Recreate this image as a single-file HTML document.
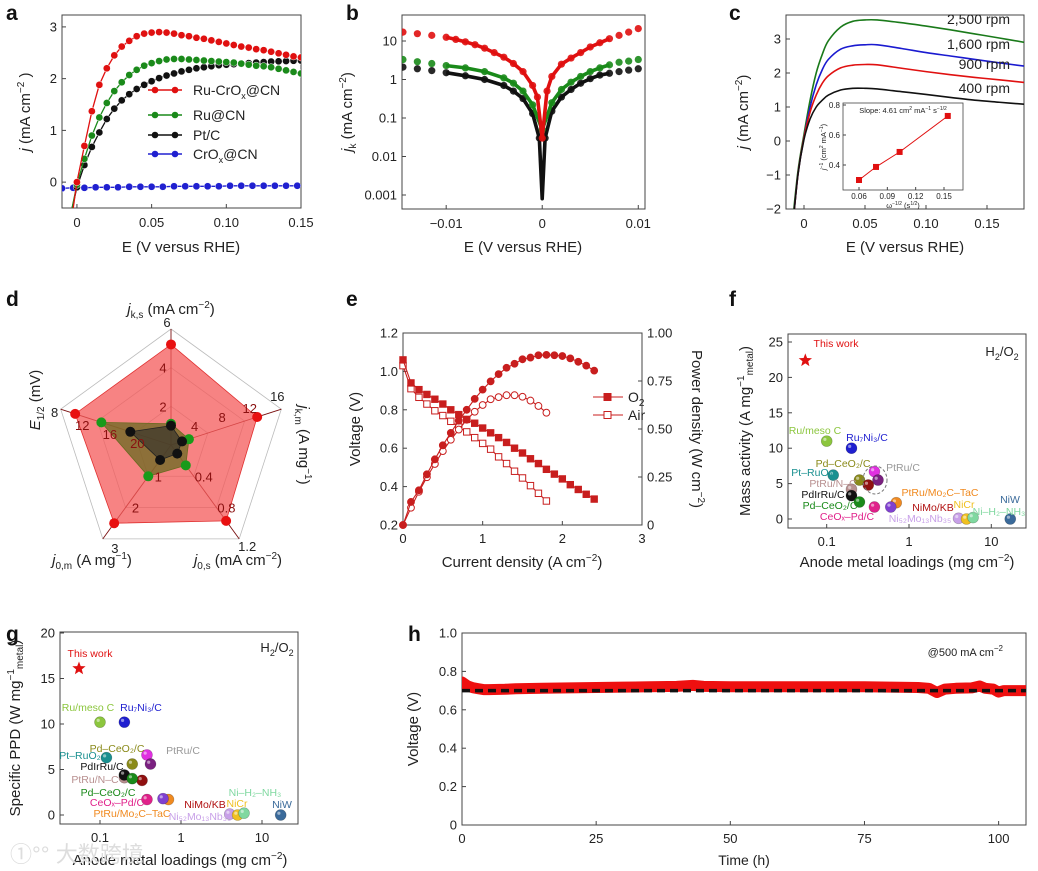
<!DOCTYPE html>
<html><head><meta charset="utf-8">
<style>
html,body{margin:0;padding:0;background:#fff;}
svg{display:block;font-family:"Liberation Sans","Noto Sans CJK SC",sans-serif;}
</style></head>
<body>
<svg id="fig" width="1038" height="871" viewBox="0 0 1038 871" xmlns="http://www.w3.org/2000/svg">
<rect x="0" y="0" width="1038" height="871" fill="#fff"/>
<defs>
<clipPath id="clipA"><rect x="62" y="15" width="239" height="193"/></clipPath>
<clipPath id="clipB"><rect x="402" y="15" width="243" height="194"/></clipPath>
<clipPath id="clipC"><rect x="786" y="15" width="238" height="194"/></clipPath>
<clipPath id="clipH"><rect x="462" y="633" width="564" height="192"/></clipPath>
</defs>
</svg>
<script>
// ---------- DATA ----------
// panel a
const aE_red=[-0.003,0,0.005,0.01,0.015,0.02,0.025,0.03,0.035,0.04,0.045,0.05,0.055,0.06,0.065,0.07,0.075,0.08,0.085,0.09,0.095,0.1,0.105,0.11,0.115,0.12,0.125,0.13,0.135,0.14,0.145,0.15];
const aJ_red=[-0.6,0.0,0.7,1.37,1.88,2.2,2.45,2.62,2.73,2.82,2.87,2.89,2.9,2.89,2.87,2.84,2.82,2.79,2.77,2.74,2.71,2.68,2.65,2.62,2.6,2.57,2.55,2.52,2.49,2.46,2.43,2.41];
const aE_green=[-0.004,0,0.005,0.01,0.015,0.02,0.025,0.03,0.035,0.04,0.045,0.05,0.055,0.06,0.065,0.07,0.075,0.08,0.085,0.09,0.095,0.1,0.105,0.11,0.115,0.12,0.125,0.13,0.135,0.14,0.145,0.15];
const aJ_green=[-0.6,-0.05,0.45,0.9,1.25,1.53,1.76,1.93,2.07,2.17,2.25,2.3,2.34,2.37,2.38,2.38,2.37,2.36,2.35,2.34,2.33,2.32,2.31,2.29,2.27,2.25,2.24,2.22,2.19,2.16,2.13,2.1];
const aE_black=[-0.004,0,0.005,0.01,0.015,0.02,0.025,0.03,0.035,0.04,0.045,0.05,0.055,0.06,0.065,0.07,0.075,0.08,0.085,0.09,0.095,0.1,0.105,0.11,0.115,0.12,0.125,0.13,0.135,0.14,0.145,0.15];
const aJ_black=[-0.6,-0.1,0.33,0.68,0.96,1.22,1.42,1.58,1.7,1.8,1.88,1.95,2.01,2.06,2.1,2.14,2.17,2.2,2.22,2.24,2.26,2.27,2.28,2.29,2.3,2.31,2.32,2.33,2.335,2.34,2.345,2.35];
const aE_blue=[-0.01,-0.0025,0.005,0.0125,0.02,0.0275,0.035,0.0425,0.05,0.0575,0.065,0.0725,0.08,0.0875,0.095,0.1025,0.11,0.1175,0.125,0.1325,0.14,0.1475];
const aJ_blue=[-0.12,-0.11,-0.11,-0.1,-0.1,-0.1,-0.09,-0.09,-0.09,-0.09,-0.08,-0.08,-0.08,-0.08,-0.08,-0.07,-0.07,-0.07,-0.07,-0.07,-0.07,-0.07];
const aXTicks=[0,0.05,0.1,0.15];
const aXLabels=['0','0.05','0.10','0.15'];
const aYTicks=[0,1,2,3];
// panel b (E in mV)
const bE_red=[-14.5,-13,-11.5,-10,-9,-8,-7,-6,-5,-4,-3,-2,-1,-0.5,0,0.5,1,2,3,4,5,6,7,8,9,10];
const bJ_red=[17,15.5,14,12.5,11,9.5,8,6.5,5,3.8,2.6,1.6,0.7,0.35,0.03,0.5,1.2,2.5,3.6,5,7,9,11.5,14,17,21];
const bE_green=[-14.5,-13,-11.5,-10,-8,-6,-4,-3,-2,-1,0,1,2,3,4,5,6,7,8,9,10];
const bJ_green=[3.3,2.9,2.6,2.3,2.0,1.6,1.1,0.8,0.5,0.22,0.05,0.25,0.55,0.85,1.2,1.6,2.0,2.4,2.8,3.0,3.3];
const bE_black=[-14.5,-13,-11.5,-10,-8,-6,-4,-3,-2,-1,-0.3,0,0.3,1,2,3,4,5,6,7,8,9,10];
const bJ_black=[2.1,1.9,1.7,1.5,1.25,1.0,0.7,0.5,0.32,0.13,0.03,0.0008,0.03,0.15,0.35,0.55,0.8,1.05,1.3,1.45,1.6,1.75,1.9];
const bXTicks=[-10,0,10];
const bXLabels=['\u22120.01','0','0.01'];
const bYTicks=[10,1,0.1,0.01,0.001];
const bYLabels=['10','1','0.1','0.01','0.001'];
// panel c
const cE=[-0.01,-0.005,0,0.005,0.01,0.015,0.02,0.03,0.04,0.05,0.06,0.08,0.1,0.12,0.14,0.16,0.181];
const cJ2500=[-2.6,-0.9,0.2,1.2,2.0,2.55,2.95,3.35,3.52,3.56,3.56,3.48,3.38,3.27,3.15,3.03,2.9];
const cJ1600=[-2.8,-1.0,0.1,1.0,1.65,2.1,2.4,2.7,2.8,2.83,2.83,2.72,2.6,2.5,2.4,2.3,2.2];
const cJ900=[-2.8,-1.0,0.1,0.85,1.35,1.7,1.92,2.15,2.23,2.25,2.24,2.14,2.04,1.95,1.87,1.8,1.72];
const cJ400=[-2.8,-1.0,0.05,0.65,1.0,1.2,1.35,1.5,1.55,1.55,1.53,1.45,1.37,1.28,1.2,1.14,1.08];
const cSpeeds=['2,500 rpm','1,600 rpm','900 rpm','400 rpm'];
const cXTicks=[0,0.05,0.1,0.15];
const cXLabels=['0','0.05','0.10','0.15'];
const cYTicks=[-2,-1,0,1,2,3];
const cYLabels=['\u22122','\u22121','0','1','2','3'];
const insetX=[0.06,0.078,0.103,0.154];
const insetY=[0.30,0.387,0.487,0.727];
const insetXTicks=[0.06,0.09,0.12,0.15];
const insetYTicks=[0.4,0.6,0.8];
// panel d (radar)
const dAxes=['jks','jkm','j0s','j0m','E12'];
const dMax=[6,16,1.2,3,8];
const dRed=[5.2,12.5,0.97,2.5,10.1];
const dGreen=[1.1,2.6,0.26,1.0,13.9];
const dBlack=[1.0,1.6,0.11,0.48,18.1];
// panel e
const eI_O2=[0,0.1,0.2,0.3,0.4,0.5,0.6,0.7,0.8,0.9,1.0,1.1,1.2,1.3,1.4,1.5,1.6,1.7,1.8,1.9,2.0,2.1,2.2,2.3,2.4];
const eV_O2=[1.06,0.94,0.905,0.88,0.855,0.83,0.8,0.775,0.75,0.73,0.705,0.68,0.655,0.63,0.6,0.575,0.545,0.52,0.49,0.465,0.44,0.41,0.385,0.36,0.335];
const eP_O2=[0,0.12,0.181,0.264,0.342,0.415,0.48,0.543,0.6,0.657,0.705,0.748,0.786,0.819,0.84,0.863,0.872,0.884,0.886,0.884,0.88,0.868,0.85,0.83,0.804];
const eI_Air=[0,0.1,0.2,0.3,0.4,0.5,0.6,0.7,0.8,0.9,1.0,1.1,1.2,1.3,1.4,1.5,1.6,1.7,1.8];
const eV_Air=[1.03,0.91,0.865,0.83,0.795,0.77,0.74,0.71,0.685,0.655,0.625,0.595,0.555,0.52,0.48,0.445,0.405,0.365,0.325];
const eP_Air=[0,0.09,0.173,0.249,0.318,0.385,0.444,0.497,0.548,0.59,0.625,0.655,0.666,0.676,0.676,0.668,0.648,0.62,0.585];
const eXTicks=[0,1,2,3];
const eYTicks=[0.2,0.4,0.6,0.8,1.0,1.2];
const eRTicks=[0,0.25,0.5,0.75,1.0];
const eRLabels=['0','0.25','0.50','0.75','1.00'];
// panel f / g (scatter)
const catNames=['Ru/meso C','Ru\u2087Ni\u2083/C','Pt\u2013RuO\u2082','Pd\u2013CeO\u2082/C','PtRu/C','PtRu/C b','PtRu/N\u2013C','Ru\u2013Co/C','PdIrRu/C','Pd\u2013CeO\u2082/C g','CeO\u2093\u2013Pd/C','PtRu/Mo\u2082C\u2013TaC','NiMo/KB','Ni\u2085\u2082Mo\u2081\u2083Nb\u2083\u2085','NiCr','Ni\u2013H\u2082\u2013NH\u2083','NiW'];
const catColors=['#8cc63e','#1f1fd0','#1a9090','#8a8a1a','#e030e0','#7a2080','#b89090','#901010','#111111','#1a8a1a','#e0208a','#f08a20','#8040d0','#c8a0e8','#f0c020','#80d8a0','#3a6a9a'];
const fLoad=[0.1,0.2,0.12,0.25,0.38,0.42,0.2,0.32,0.2,0.25,0.38,0.7,0.6,4,5,6,17];
const fMass=[11,10,6.2,5.5,6.7,5.5,4.2,4.8,3.3,2.4,1.7,2.3,1.7,0.1,0,0.2,0];
const gLoad=[0.1,0.2,0.12,0.25,0.38,0.42,0.2,0.33,0.2,0.25,0.38,0.7,0.6,4,5,6,17];
const gPPD=[10.2,10.2,6.3,5.6,6.6,5.6,4.1,3.8,4.4,4.0,1.7,1.7,1.8,0.1,0,0.2,0];
const fThisWork=[0.055,22.4];
const gThisWork=[0.055,16.1];
const fYTicks=[0,5,10,15,20,25];
const gYTicks=[0,5,10,15,20];
const logTicks=[0.1,1,10];
// panel h
const hT=[0,0.5,1,2,3,4,5,8,10,15,20,25,30,35,40,43,45,50,55,60,65,70,75,80,85,87,88.5,90,92,95,96.5,97.5,99,100,101,103,105];
const hV=[0.745,0.735,0.725,0.715,0.71,0.705,0.705,0.707,0.71,0.712,0.714,0.716,0.718,0.72,0.722,0.727,0.722,0.72,0.72,0.72,0.72,0.72,0.72,0.718,0.716,0.712,0.69,0.708,0.712,0.714,0.724,0.712,0.708,0.692,0.7,0.7,0.7];
const hRef=0.70;
const hXTicks=[0,25,50,75,100];
const hYTicks=[0,0.2,0.4,0.6,0.8,1.0];

// ---------- HELPERS ----------
const NS='http://www.w3.org/2000/svg';
const svg=document.getElementById('fig');
function mk(tag,attrs,parent){const e=document.createElementNS(NS,tag);for(const k in attrs)e.setAttribute(k,attrs[k]);(parent||svg).appendChild(e);return e;}
function grp(name,clip){const g=mk('g',clip?{'clip-path':'url(#'+clip+')'}:{});return g;}
function T(x,y,html,size,anchor,fill,parent,extra){const e=mk('text',Object.assign({x:x,y:y,'font-size':size,'text-anchor':anchor||'middle',fill:fill||'#222'},extra||{}),parent);e.innerHTML=html;return e;}
function lin(d0,d1,r0,r1){return v=>r0+(v-d0)/(d1-d0)*(r1-r0);}
function logS(d0,d1,r0,r1){return v=>r0+(Math.log10(v)-Math.log10(d0))/(Math.log10(d1)-Math.log10(d0))*(r1-r0);}
function frame(x0,y0,x1,y1,name){const r=mk('rect',{x:x0,y:y0,width:x1-x0,height:y1-y0,fill:'none',stroke:'#444','stroke-width':1});}
function xTicks(vals,labels,sx,yb,ylab,g){vals.forEach((v,i)=>{const x=sx(v);mk('line',{x1:x,x2:x,y1:yb,y2:yb-4,stroke:'#444'},g);const t=T(x,ylab,labels[i],13,'middle','#222',g);});}
function yTicks(vals,labels,sy,xl,g,right){vals.forEach((v,i)=>{const y=sy(v);mk('line',{x1:xl,x2:right?xl-4:xl+4,y1:y,y2:y,stroke:'#444'},g);const t=T(right?xl+5:xl-5,y+4.5,labels[i],13,right?'start':'end','#222',g);});}
function pathD(xs,ys,sx,sy){return xs.map((v,i)=>(i?'L':'M')+sx(v).toFixed(1)+','+sy(ys[i]).toFixed(1)).join('');}
function smoothD(xs,ys,sx,sy){const p=xs.map((v,i)=>[sx(v),sy(ys[i])]);let d='M'+p[0][0]+','+p[0][1];for(let i=0;i<p.length-1;i++){const p0=p[i-1]||p[i],p1=p[i],p2=p[i+1],p3=p[i+2]||p2;const c1=[p1[0]+(p2[0]-p0[0])/6,p1[1]+(p2[1]-p0[1])/6],c2=[p2[0]-(p3[0]-p1[0])/6,p2[1]-(p3[1]-p1[1])/6];d+='C'+c1.join(',')+' '+c2.join(',')+' '+p2.join(',');}return d;}
function panelLabel(x,y,s){const t=T(x,y,s,21,'start','#111',svg,{'font-weight':'bold'});}
function rotText(x,y,html,size,name,deg){const t=T(0,0,html,size,'middle','#222',svg,{transform:'translate('+x+','+y+') rotate('+(deg||-90)+')'});return t;}

// ---------- PANEL A ----------
panelLabel(6,20,'a');
{
const sx=lin(-0.01,0.15,62,301), sy=lin(-0.5,3.23,208,15);
const g=grp('panel-a-axes');
frame(62,15,301,208,'panel-a-frame');
xTicks(aXTicks,aXLabels,sx,208,227,g);
yTicks(aYTicks,aYTicks.map(String),sy,62,g);
const xt=T(181,252,'E (V versus RHE)',15);
rotText(30,112,'<tspan font-style="italic">j</tspan> (mA cm<tspan dy="-6" font-size="10">\u22122</tspan><tspan dy="6"> </tspan>)',15,'panel-a-y-title');
const gd=grp('panel-a-series','clipA');
const series=[[aE_blue,aJ_blue,'#2020d0','series-crox-cn'],[aE_black,aJ_black,'#111','series-pt-c'],[aE_green,aJ_green,'#1a8a1a','series-ru-cn'],[aE_red,aJ_red,'#e01010','series-ru-crox-cn']];
series.forEach(s=>{const sg=mk('g',{},gd);
 mk('path',{d:pathD(s[0],s[1],sx,sy),fill:'none',stroke:s[2],'stroke-width':1.3},sg);
 s[0].forEach((v,i)=>{if(i===0&&s[3]!=='series-crox-cn')return;const c=mk('circle',{cx:sx(v),cy:sy(s[1][i]),r:3.6,fill:s[2],stroke:'#fff','stroke-width':0.5},sg);});});
const leg=[['Ru-CrO<tspan dy="4" font-size="9">x</tspan><tspan dy="-4">@CN</tspan>','#e01010',90],['Ru@CN','#1a8a1a',115],['Pt/C','#111',135],['CrO<tspan dy="4" font-size="9">x</tspan><tspan dy="-4">@CN</tspan>','#2020d0',154]];
leg.forEach(l=>{const lg=mk('g',{});
 mk('line',{x1:148,x2:182,y1:l[2],y2:l[2],stroke:l[1],'stroke-width':1.5},lg);mk('circle',{cx:155,cy:l[2],r:3.3,fill:l[1]},lg);mk('circle',{cx:175,cy:l[2],r:3.3,fill:l[1]},lg);
 T(193,l[2]+5,l[0],14,'start','#222',lg);});
}

// ---------- PANEL B ----------
panelLabel(346,20,'b');
{
const sx=lin(-14.6,10.7,402,645), sy=logS(0.001,10,195,41);
const g=grp('panel-b-axes');
frame(402,15,645,209,'panel-b-frame');
xTicks(bXTicks,bXLabels,sx,209,228,g);
yTicks(bYTicks,bYLabels,sy,402,g);
const xt=T(523,252,'E (V versus RHE)',15);
rotText(352,112,'<tspan font-style="italic">j</tspan><tspan dy="4" font-size="10">k</tspan><tspan dy="-4"> (mA cm</tspan><tspan dy="-6" font-size="10">\u22122</tspan><tspan dy="6">)</tspan>',15,'panel-b-y-title');
const gd=grp('panel-b-series','clipB');
[[bE_black,bJ_black,'#111','series-pt-c'],[bE_green,bJ_green,'#1a8a1a','series-ru-cn'],[bE_red,bJ_red,'#e01010','series-ru-crox-cn']].forEach(s=>{
 const sg=mk('g',{},gd);
 const fitX=s[0].filter(v=>v>=-10.5&&v<=7.5), fitY=s[1].filter((v,i)=>s[0][i]>=-10.5&&s[0][i]<=7.5);
 mk('path',{d:pathD(fitX,fitY,sx,sy),fill:'none',stroke:s[2],'stroke-width':3.6,'stroke-linejoin':'round'},sg);
 s[0].forEach((v,i)=>{if(s[1][i]<0.02)return;const c=mk('circle',{cx:sx(v),cy:sy(s[1][i]),r:3.6,fill:s[2],opacity:0.9},sg);});});
}

// ---------- PANEL C ----------
panelLabel(729,20,'c');
{
const sx=lin(0,0.05,804,865), sy=lin(0,1,141,107);
const g=grp('panel-c-axes');
frame(786,15,1024,209,'panel-c-frame');
xTicks(cXTicks,cXLabels,sx,209,228,g);
yTicks(cYTicks,cYLabels,sy,786,g);
const xt=T(905,252,'E (V versus RHE)',15);
rotText(748,112,'<tspan font-style="italic">j</tspan> (mA cm<tspan dy="-6" font-size="10">\u22122</tspan><tspan dy="6">)</tspan>',15,'panel-c-y-title');
const gd=grp('panel-c-series','clipC');
[[cJ2500,'#1a7a1a'],[cJ1600,'#1a1ad0'],[cJ900,'#e01010'],[cJ400,'#111']].forEach((s,k)=>{
 const p=mk('path',{d:smoothD(cE,s[0],sx,sy),fill:'none',stroke:s[1],'stroke-width':1.6},gd);
 });
[24,49,69,93].forEach((y,k)=>{const t=T(1010,y,cSpeeds[k],14,'end','#222');});
// inset
const ig=grp('panel-c-inset');
mk('rect',{x:843,y:103,width:120,height:87,fill:'#fff',stroke:'#444','stroke-width':0.8},ig);
const ix=lin(0.06,0.15,859,944), iy=lin(0.4,0.8,165,105);
insetXTicks.forEach(v=>{mk('line',{x1:ix(v),x2:ix(v),y1:190,y2:187,stroke:'#444'},ig);const t=T(ix(v),199,v.toFixed(2),8,'middle','#222',ig);});
insetYTicks.forEach(v=>{mk('line',{x1:843,x2:846,y1:iy(v),y2:iy(v),stroke:'#444'},ig);const t=T(840,iy(v)+3,v.toFixed(1),8,'end','#222',ig);});
mk('path',{d:pathD(insetX,insetY,ix,iy),fill:'none',stroke:'#e01010','stroke-width':1},ig);
insetX.forEach((v,i)=>{const r=mk('rect',{x:ix(v)-3,y:iy(insetY[i])-3,width:6,height:6,fill:'#e01010'},ig);});
T(903,113,'Slope: 4.61 cm<tspan dy="-3" font-size="5">2</tspan><tspan dy="3"> mA</tspan><tspan dy="-3" font-size="5">\u22121</tspan><tspan dy="3"> s</tspan><tspan dy="-3" font-size="5">\u22121/2</tspan>',7.5,'middle','#222',ig);
T(903,208,'\u03c9<tspan dy="-3" font-size="5">\u22121/2</tspan><tspan dy="3"> (s</tspan><tspan dy="-3" font-size="5">1/2</tspan><tspan dy="3">)</tspan>',7.5,'middle','#222',ig);
T(0,0,'<tspan font-style="italic">j</tspan><tspan dy="-3" font-size="5">\u22121</tspan><tspan dy="3"> (cm</tspan><tspan dy="-3" font-size="5">2</tspan><tspan dy="3"> mA</tspan><tspan dy="-3" font-size="5">\u22121</tspan><tspan dy="3">)</tspan>',7.5,'middle','#222',ig,{transform:'translate(826,147) rotate(-90)'});
}

// ---------- PANEL D ----------
panelLabel(6,306,'d');
{
const cx=171,cy=445,R=116;
const ang=k=>(-90+72*k)*Math.PI/180;
const frac=(k,v)=>k===4?(24-v)/16:v/dMax[k];
const pt=(k,f)=>[cx+R*f*Math.cos(ang(k)),cy+R*f*Math.sin(ang(k))];
const g=grp('panel-d-radar-grid');
[1/3,2/3,1].forEach(f=>{mk('polygon',{points:[0,1,2,3,4].map(k=>pt(k,f).join(',')).join(' '),fill:'none',stroke:'#bbb','stroke-width':0.8},g);});
function poly(vals,fill,stroke,op,name,pc){const pg=mk('g',{});
 mk('polygon',{points:vals.map((v,k)=>pt(k,frac(k,v)).join(',')).join(' '),fill:fill,'fill-opacity':op,stroke:stroke,'stroke-width':0.8},pg);
 vals.forEach((v,k)=>{const p=pt(k,frac(k,v));const c=mk('circle',{cx:p[0],cy:p[1],r:5,fill:pc},pg);});}
poly(dRed,'#f45a5a','#e03030',0.75,'radar-ru-crox-cn','#e81010');
[0,1,2,3,4].forEach(k=>{const p=pt(k,1);mk('line',{x1:cx,y1:cy,x2:p[0],y2:p[1],stroke:'#7a1010','stroke-width':0.9},g);});
poly(dGreen,'#6a6a20','#6a6a20',0.75,'radar-ru-cn','#1a9a1a');
poly(dBlack,'#2a2a2a','#222',0.6,'radar-pt-c','#111');
// tick labels along axes
const tl=[[[2,4],[6]],[[4,8,12],[16]],[[0.4,0.8],[1.2]],[[1,2],[3]],[[12,16,20],[8]]];
tl.forEach((s,k)=>{s[0].forEach(v=>{const p=pt(k,frac(k,v));const t=T(p[0]+(k===0?-8:k===1?-4:k===2?10:k===3?10:-6),p[1]+(k===1?-5:k===4?12:5),String(v),13,'middle','#8a1010');});
 s[1].forEach(v=>{const p=pt(k,1);const off=[[-4,-2],[-4,-8],[8,12],[12,14],[-6,8]][k];const t=T(p[0]+off[0],p[1]+off[1],String(v),13,'middle','#222');});});
let t=T(171,314,'<tspan font-style="italic">j</tspan><tspan dy="4" font-size="10">k,s</tspan><tspan dy="-4"> (mA cm</tspan><tspan dy="-6" font-size="10">\u22122</tspan><tspan dy="6">)</tspan>',15);
rotText(299,445,'<tspan font-style="italic">j</tspan><tspan dy="4" font-size="10">k,m</tspan><tspan dy="-4"> (A mg</tspan><tspan dy="-6" font-size="10">\u22121</tspan><tspan dy="6">)</tspan>',15,'radar-axis-jkm',90);
t=T(238,565,'<tspan font-style="italic">j</tspan><tspan dy="4" font-size="10">0,s</tspan><tspan dy="-4"> (mA cm</tspan><tspan dy="-6" font-size="10">\u22122</tspan><tspan dy="6">)</tspan>',15);
t=T(92,565,'<tspan font-style="italic">j</tspan><tspan dy="4" font-size="10">0,m</tspan><tspan dy="-4"> (A mg</tspan><tspan dy="-6" font-size="10">\u22121</tspan><tspan dy="6">)</tspan>',15);
rotText(40,400,'<tspan font-style="italic">E</tspan><tspan dy="4" font-size="10">1/2</tspan><tspan dy="-4"> (mV)</tspan>',15,'radar-axis-e12');
}

// ---------- PANEL E ----------
panelLabel(346,306,'e');
{
const sx=lin(0,3,403,642), sy=lin(0.2,1.2,525,333), sp=lin(0,1,525,333);
const g=grp('panel-e-axes');
frame(403,333,642,525,'panel-e-frame');
xTicks(eXTicks,eXTicks.map(String),sx,525,543,g);
yTicks(eYTicks,eYTicks.map(v=>v.toFixed(1)),sy,403,g);
yTicks(eRTicks,eRLabels,sp,642,g,true);
let t=T(522,567,'Current density (A cm<tspan dy="-6" font-size="10">\u22122</tspan><tspan dy="6">)</tspan>',15);
rotText(360,429,'Voltage (V)',15,'panel-e-y-title');
rotText(692,429,'Power density (W cm<tspan dy="-6" font-size="10">\u22122</tspan><tspan dy="6">)</tspan>',15,'panel-e-y2-title',90);
const col='#c81e1e';
function ser(xs,ys,scale,shape,filled,name){const sg=mk('g',{});
 mk('path',{d:pathD(xs,ys,sx,scale),fill:'none',stroke:col,'stroke-width':1.1},sg);
 xs.forEach((v,i)=>{const X=sx(v),Y=scale(ys[i]);let m;if(shape==='sq')m=mk('rect',{x:X-3.2,y:Y-3.2,width:6.4,height:6.4,fill:filled?col:'#fff',stroke:col,'stroke-width':1},sg);else m=mk('circle',{cx:X,cy:Y,r:3.4,fill:filled?col:'#fff',stroke:col,'stroke-width':1},sg);});}
ser(eI_Air,eV_Air,sy,'sq',false,'series-air-voltage');
ser(eI_Air,eP_Air,sp,'ci',false,'series-air-power');
ser(eI_O2,eV_O2,sy,'sq',true,'series-o2-voltage');
ser(eI_O2,eP_O2,sp,'ci',true,'series-o2-power');
[[397,true,'O<tspan dy="4" font-size="10">2</tspan>'],[415,false,'Air']].forEach(l=>{const lg=mk('g',{});
 mk('line',{x1:593,x2:623,y1:l[0],y2:l[0],stroke:col,'stroke-width':1.1},lg);mk('rect',{x:604,y:l[0]-3.5,width:7,height:7,fill:l[1]?col:'#fff',stroke:col},lg);T(628,l[0]+5,l[2],14,'start','#222',lg);});
}

// ---------- PANEL F / G ----------
function scatterPanel(id,box,sx,sy,loads,vals,tw,yt,labelPos,title){
 const g=grp('panel-'+id+'-axes');
 frame(box[0],box[1],box[2],box[3],'panel-'+id+'-frame');
 xTicks(logTicks,['0.1','1','10'],sx,box[3],box[3]+18,g);
 yTicks(yt,yt.map(String),sy,box[0],g);
 const dg=grp('panel-'+id+'-points');
 loads.forEach((v,i)=>{const c=mk('circle',{cx:sx(v),cy:sy(vals[i]),r:5.5,fill:catColors[i],stroke:'rgba(0,0,0,0.25)','stroke-width':0.6},dg);
  mk('circle',{cx:sx(v)-1.8,cy:sy(vals[i])-1.8,r:1.6,fill:'#fff','fill-opacity':0.5},dg);});
 const X=sx(tw[0]),Y=sy(tw[1]);const star=[];for(let k=0;k<10;k++){const r=k%2?3:7,a=(-90+36*k)*Math.PI/180;star.push((X+r*Math.cos(a)).toFixed(1)+','+(Y+r*Math.sin(a)).toFixed(1));}
 const s=mk('polygon',{points:star.join(' '),fill:'#e01010'},dg);
 labelPos.forEach(l=>{const t=T(l[0],l[1]+4,l[2],10.5,'middle',l[3],dg);});
 const h=T(title[0],title[1],'H<tspan dy="4" font-size="9">2</tspan><tspan dy="-4">/O</tspan><tspan dy="4" font-size="9">2</tspan>',13,'middle','#222');
}
panelLabel(729,306,'f');
{
const sx=v=>909+Math.log10(v)*82.3, sy=v=>519-v*7.08;
scatterPanel('f',[788,334,1026,528],sx,sy,fLoad,fMass,fThisWork,fYTicks,[
[836,343,'This work','#e01010'],[815,430,'Ru/meso C','#8cc63e'],[867,437,'Ru\u2087Ni\u2083/C','#1f1fd0'],[812,472,'Pt\u2013RuO\u2082','#1a9090'],[843,463,'Pd\u2013CeO\u2082/C','#8a8a1a'],[903,467,'PtRu/C','#999'],[833,483,'PtRu/N\u2013C','#b89090'],[823,494,'PdIrRu/C','#111'],[830,505,'Pd\u2013CeO\u2082/C','#1a8a1a'],[847,516,'CeO\u2093\u2013Pd/C','#e0208a'],[940,492,'PtRu/Mo\u2082C\u2013TaC','#f08a20'],[933,507,'NiMo/KB','#b01010'],[920,518,'Ni\u2085\u2082Mo\u2081\u2083Nb\u2083\u2085','#c8a0e8'],[964,504,'NiCr','#f0c020'],[999,511,'Ni\u2013H\u2082\u2013NH\u2083','#80d8a0'],[1010,499,'NiW','#3a6a9a']],[1002,356]);
const e=mk('ellipse',{cx:875,cy:480,rx:12,ry:14,fill:'none',stroke:'#777','stroke-dasharray':'3,2'});
let t=T(907,567,'Anode metal loadings (mg cm<tspan dy="-6" font-size="10">\u22122</tspan><tspan dy="6">)</tspan>',15);
rotText(750,431,'Mass activity (A mg<tspan dy="-6" font-size="10">\u22121</tspan><tspan dy="9" font-size="10">metal</tspan><tspan dy="-3">)</tspan>',15,'panel-f-y-title');
}
panelLabel(6,641,'g');
{
const sx=v=>181+Math.log10(v)*81, sy=v=>815-v*9.1;
scatterPanel('g',[60,632,298,824],sx,sy,gLoad,gPPD,gThisWork,gYTicks,[
[90,653,'This work','#e01010'],[88,707,'Ru/meso C','#8cc63e'],[141,707,'Ru\u2087Ni\u2083/C','#1f1fd0'],[117,748,'Pd\u2013CeO\u2082/C','#8a8a1a'],[183,750,'PtRu/C','#999'],[80,755,'Pt\u2013RuO\u2082','#1a9090'],[102,766,'PdIrRu/C','#111'],[95,779,'PtRu/N\u2013C','#b89090'],[108,792,'Pd\u2013CeO\u2082/C','#1a8a1a'],[117,802,'CeO\u2093\u2013Pd/C','#e0208a'],[132,813,'PtRu/Mo\u2082C\u2013TaC','#f08a20'],[205,804,'NiMo/KB','#b01010'],[200,816,'Ni\u2085\u2082Mo\u2081\u2083Nb\u2083\u2085','#c8a0e8'],[237,803,'NiCr','#f0c020'],[255,792,'Ni\u2013H\u2082\u2013NH\u2083','#80d8a0'],[282,804,'NiW','#3a6a9a']],[277,652]);
let t=T(180,865,'Anode metal loadings (mg cm<tspan dy="-6" font-size="10">\u22122</tspan><tspan dy="6">)</tspan>',15);
rotText(20,728,'Specific PPD (W mg<tspan dy="-6" font-size="10">\u22121</tspan><tspan dy="9" font-size="10">metal</tspan><tspan dy="-3">)</tspan>',15,'panel-g-y-title');
const w=T(10,862,'\u2460\u00b0\u00b0 \u5927\u6570\u8de8\u5883',22,'start','#ddd');
}

// ---------- PANEL H ----------
panelLabel(408,641,'h');
{
const sx=lin(0,105.1,462,1026), sy=lin(0,1,825,633);
const g=grp('panel-h-axes');
frame(462,633,1026,825,'panel-h-frame');
xTicks(hXTicks,hXTicks.map(String),sx,825,843,g);
yTicks(hYTicks,hYTicks.map(v=>v===0?'0':v.toFixed(1)),sy,462,g);
let t=T(744,865,'Time (h)',14);
rotText(418,729,'Voltage (V)',15,'panel-h-y-title');
const gd=grp('panel-h-series','clipH');
const p=mk('path',{d:pathD(hT,hV,sx,sy),fill:'none',stroke:'#ee1010','stroke-width':11,'stroke-linejoin':'round','stroke-linecap':'round'},gd);

const r=mk('line',{x1:sx(0),x2:sx(105.1),y1:sy(hRef),y2:sy(hRef),stroke:'#111','stroke-width':3.5,'stroke-dasharray':'8,5'},gd);

t=T(1003,656,'@500 mA cm<tspan dy="-5" font-size="8">\u22122</tspan>',11,'end','#222');
}
</script>
</body></html>
